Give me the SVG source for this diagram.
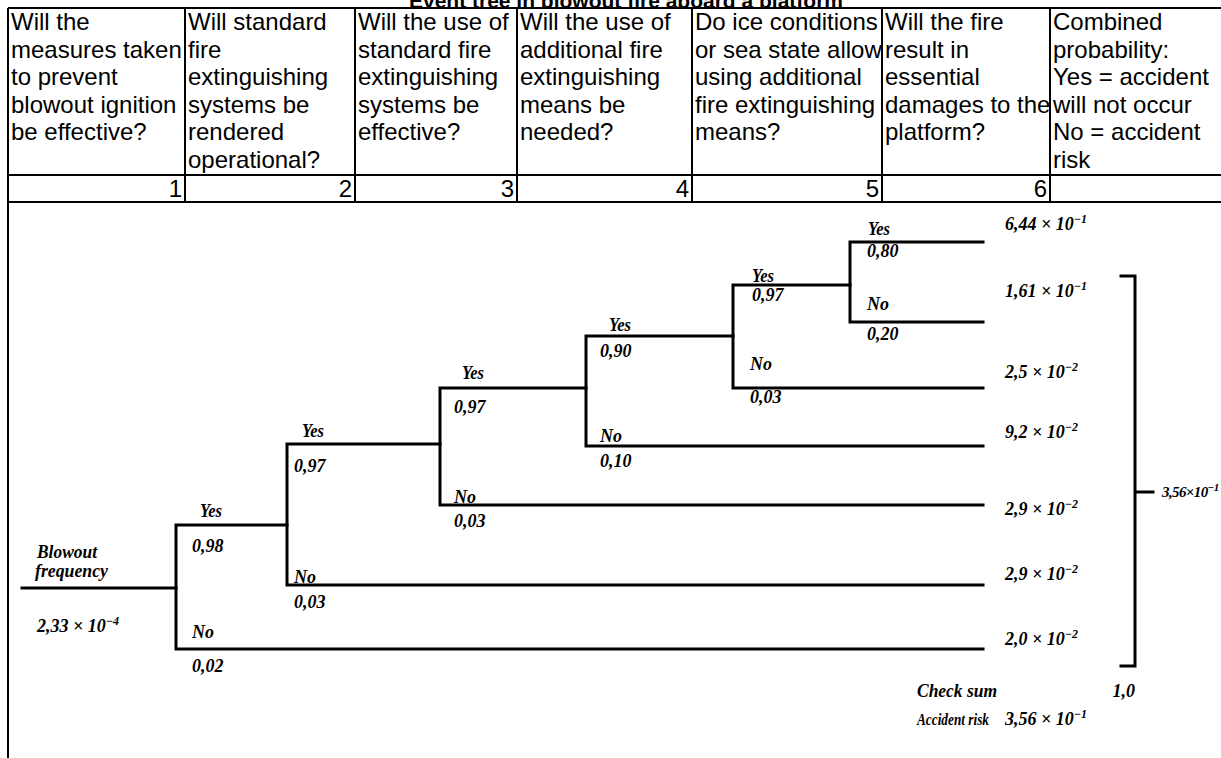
<svg xmlns="http://www.w3.org/2000/svg" width="1221" height="758" viewBox="0 0 1221 758">
<style>
.h{font-family:"Liberation Sans",Arial,sans-serif;font-size:24px;fill:#000}
.n{font-family:"Liberation Sans",Arial,sans-serif;font-size:24px;fill:#000;text-anchor:end}
.ttl{font-family:"Liberation Sans",Arial,sans-serif;font-size:21px;font-weight:bold;fill:#000;text-anchor:middle}
.grid{stroke:#000;stroke-width:2;fill:none}
.t{font-family:"Liberation Serif","Times New Roman",serif;font-weight:bold;font-style:italic;font-size:18px;fill:#000}
.e{font-size:12px}
.br{stroke:#000;stroke-width:3;fill:none;stroke-linecap:square}
</style>
<rect x="0" y="0" width="1221" height="758" fill="#fff"/>
<g id="title">
<text class="ttl" x="626" y="8">Event tree in blowout fire aboard a platform</text>
</g>
<g id="table">
<rect x="8" y="9" width="1213" height="193" fill="#fff"/>
<path class="grid" d="M8,8 H1221 M8,175 H1221 M8,202 H1221 M8,8 V758 M185,8 V202 M355,8 V202 M517,8 V202 M692,8 V202 M882,8 V202 M1050,8 V202"/>
<g id="col1"><text class="h" x="11" y="30">Will the</text><text class="h" x="11" y="57.6">measures taken</text><text class="h" x="11" y="85.2">to prevent</text><text class="h" x="11" y="112.8">blowout ignition</text><text class="h" x="11" y="140.4">be effective?</text></g>
<g id="col2"><text class="h" x="188" y="30">Will standard</text><text class="h" x="188" y="57.6">fire</text><text class="h" x="188" y="85.2">extinguishing</text><text class="h" x="188" y="112.8">systems be</text><text class="h" x="188" y="140.4">rendered</text><text class="h" x="188" y="168">operational?</text></g>
<g id="col3"><text class="h" x="358" y="30">Will the use of</text><text class="h" x="358" y="57.6">standard fire</text><text class="h" x="358" y="85.2">extinguishing</text><text class="h" x="358" y="112.8">systems be</text><text class="h" x="358" y="140.4">effective?</text></g>
<g id="col4"><text class="h" x="520" y="30">Will the use of</text><text class="h" x="520" y="57.6">additional fire</text><text class="h" x="520" y="85.2">extinguishing</text><text class="h" x="520" y="112.8">means be</text><text class="h" x="520" y="140.4">needed?</text></g>
<g id="col5"><text class="h" x="695" y="30">Do ice conditions</text><text class="h" x="695" y="57.6">or sea state allow</text><text class="h" x="695" y="85.2">using additional</text><text class="h" x="695" y="112.8">fire extinguishing</text><text class="h" x="695" y="140.4">means?</text></g>
<g id="col6"><text class="h" x="885" y="30">Will the fire</text><text class="h" x="885" y="57.6">result in</text><text class="h" x="885" y="85.2">essential</text><text class="h" x="885" y="112.8">damages to the</text><text class="h" x="885" y="140.4">platform?</text></g>
<g id="col7"><text class="h" x="1053" y="30">Combined</text><text class="h" x="1053" y="57.6">probability:</text><text class="h" x="1053" y="85.2">Yes = accident</text><text class="h" x="1053" y="112.8">will not occur</text><text class="h" x="1053" y="140.4">No = accident</text><text class="h" x="1053" y="168">risk</text></g>
<g id="numbers"><text class="n" x="182" y="197">1</text><text class="n" x="352" y="197">2</text><text class="n" x="514" y="197">3</text><text class="n" x="689" y="197">4</text><text class="n" x="879" y="197">5</text><text class="n" x="1047" y="197">6</text></g>
</g>
<g id="connectors">
<path class="br" d="M22,588 H176"/>
<path class="br" d="M287,525 H176 V649 H983"/>
<path class="br" d="M440,444 H287 V585 H983"/>
<path class="br" d="M586,388 H440 V505 H983"/>
<path class="br" d="M733,336 H586 V446 H983"/>
<path class="br" d="M850,285 H733 V388 H983"/>
<path class="br" d="M983,242 H850 V322 H983"/>
<path class="br" d="M1121,276 H1135 V666 H1121 M1135,492 H1153"/>
</g>
<g id="start">
<text class="t" x="37" y="558" textLength="60" lengthAdjust="spacingAndGlyphs">Blowout</text>
<text class="t" x="35" y="577" textLength="73" lengthAdjust="spacingAndGlyphs">frequency</text>
<text class="t" x="37" y="632">2,33 × 10<tspan class="e" dy="-7">−4</tspan></text>
</g>
<g id="node1">
<text class="t" x="200" y="517" textLength="22" lengthAdjust="spacingAndGlyphs">Yes</text>
<text class="t" x="192" y="552">0,98</text>
<text class="t" x="192" y="638">No</text>
<text class="t" x="192" y="672">0,02</text>
</g>
<g id="node2">
<text class="t" x="302" y="437" textLength="22" lengthAdjust="spacingAndGlyphs">Yes</text>
<text class="t" x="294" y="472">0,97</text>
<text class="t" x="294" y="583">No</text>
<text class="t" x="294" y="608">0,03</text>
</g>
<g id="node3">
<text class="t" x="462" y="379" textLength="22" lengthAdjust="spacingAndGlyphs">Yes</text>
<text class="t" x="454" y="413">0,97</text>
<text class="t" x="454" y="503">No</text>
<text class="t" x="454" y="527">0,03</text>
</g>
<g id="node4">
<text class="t" x="609" y="331" textLength="22" lengthAdjust="spacingAndGlyphs">Yes</text>
<text class="t" x="600" y="357">0,90</text>
<text class="t" x="600" y="442">No</text>
<text class="t" x="600" y="467">0,10</text>
</g>
<g id="node5">
<text class="t" x="752" y="282" textLength="22" lengthAdjust="spacingAndGlyphs">Yes</text>
<text class="t" x="752" y="301">0,97</text>
<text class="t" x="750" y="370">No</text>
<text class="t" x="750" y="403">0,03</text>
</g>
<g id="node6">
<text class="t" x="868" y="235" textLength="22" lengthAdjust="spacingAndGlyphs">Yes</text>
<text class="t" x="867" y="257">0,80</text>
<text class="t" x="867" y="310">No</text>
<text class="t" x="867" y="340">0,20</text>
</g>
<g id="outcomes">
<text class="t" x="1005" y="230">6,44 × 10<tspan class="e" dy="-7">−1</tspan></text>
<text class="t" x="1005" y="297">1,61 × 10<tspan class="e" dy="-7">−1</tspan></text>
<text class="t" x="1005" y="378">2,5 × 10<tspan class="e" dy="-7">−2</tspan></text>
<text class="t" x="1005" y="438">9,2 × 10<tspan class="e" dy="-7">−2</tspan></text>
<text class="t" x="1005" y="515">2,9 × 10<tspan class="e" dy="-7">−2</tspan></text>
<text class="t" x="1005" y="580">2,9 × 10<tspan class="e" dy="-7">−2</tspan></text>
<text class="t" x="1005" y="645">2,0 × 10<tspan class="e" dy="-7">−2</tspan></text>
</g>
<g id="sum">
<text class="t" x="1162" y="497" style="font-size:15px;letter-spacing:-0.6px">3,56×10<tspan dy="-6" style="font-size:11px">−1</tspan></text>
</g>
<g id="check">
<text class="t" x="917" y="697" textLength="80" lengthAdjust="spacingAndGlyphs">Check sum</text>
<text class="t" x="1135" y="697" text-anchor="end">1,0</text>
<text class="t" x="917" y="725" style="font-size:16px" textLength="72" lengthAdjust="spacingAndGlyphs">Accident risk</text>
<text class="t" x="1005" y="725">3,56 × 10<tspan class="e" dy="-7">−1</tspan></text>
</g>
</svg>
